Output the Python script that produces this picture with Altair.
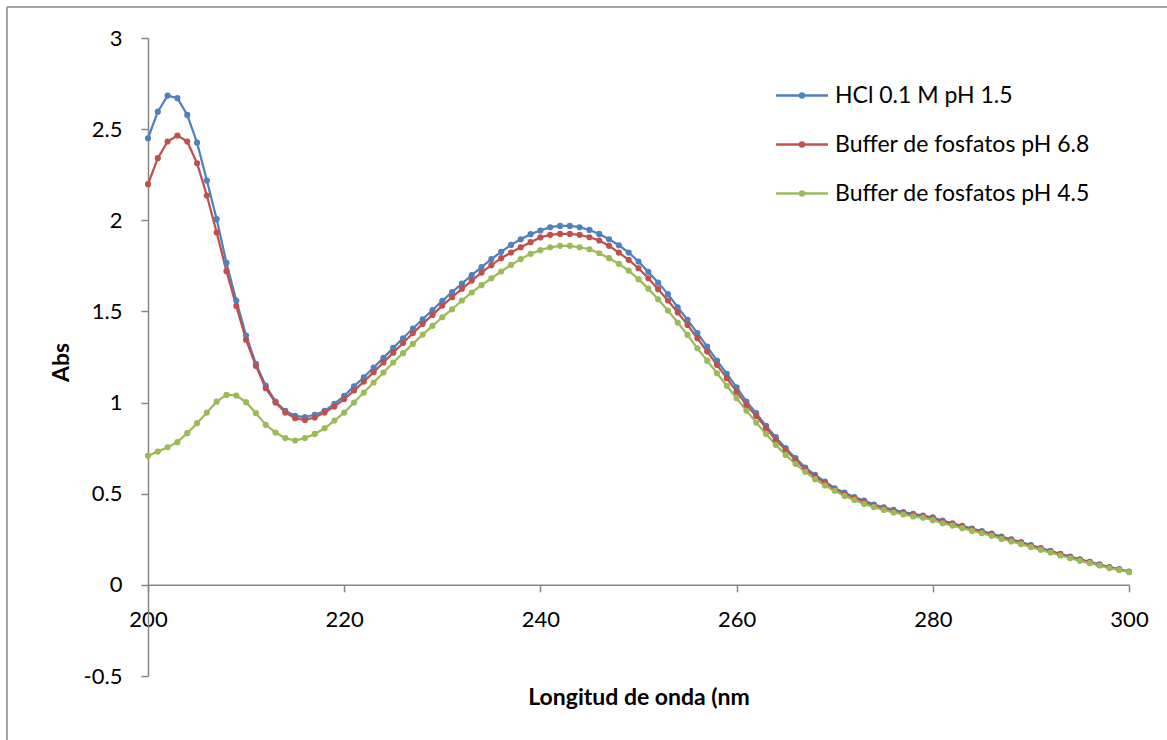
import altair as alt
import pandas as pd

wavelength = list(range(200, 301))

hcl = [
    2.450, 2.596, 2.684, 2.670, 2.578, 2.426, 2.218, 2.006, 1.766, 1.560,
    1.368, 1.212, 1.093, 1.005, 0.954, 0.927, 0.920, 0.933, 0.954, 0.993,
    1.037, 1.089, 1.139, 1.192, 1.245, 1.300, 1.353, 1.406, 1.457, 1.508,
    1.558, 1.606, 1.653, 1.699, 1.743, 1.787, 1.827, 1.865, 1.896, 1.924,
    1.944, 1.962, 1.969, 1.969, 1.962, 1.947, 1.925, 1.896, 1.863, 1.823,
    1.774, 1.717, 1.658, 1.595, 1.523, 1.454, 1.381, 1.307, 1.230, 1.157,
    1.083, 1.006, 0.942, 0.872, 0.810, 0.750, 0.695, 0.643, 0.603, 0.567,
    0.530, 0.506, 0.481, 0.462, 0.441, 0.425, 0.411, 0.399, 0.389, 0.380,
    0.371, 0.352, 0.338, 0.324, 0.309, 0.295, 0.281, 0.265, 0.250, 0.234,
    0.218, 0.202, 0.187, 0.170, 0.155, 0.140, 0.126, 0.112, 0.098, 0.086,
    0.073,
]

buf68 = [
    2.198, 2.341, 2.432, 2.465, 2.432, 2.313, 2.136, 1.933, 1.721, 1.530,
    1.344, 1.201, 1.079, 1.000, 0.945, 0.914, 0.905, 0.918, 0.945, 0.978,
    1.019, 1.066, 1.115, 1.167, 1.220, 1.274, 1.327, 1.381, 1.432, 1.481,
    1.532, 1.578, 1.624, 1.669, 1.713, 1.754, 1.792, 1.823, 1.852, 1.880,
    1.906, 1.920, 1.925, 1.925, 1.920, 1.907, 1.889, 1.860, 1.823, 1.783,
    1.737, 1.682, 1.622, 1.560, 1.494, 1.426, 1.353, 1.280, 1.207, 1.134,
    1.060, 0.987, 0.927, 0.860, 0.795, 0.741, 0.686, 0.634, 0.594, 0.560,
    0.523, 0.498, 0.476, 0.455, 0.434, 0.419, 0.405, 0.394, 0.384, 0.375,
    0.364, 0.347, 0.333, 0.319, 0.304, 0.290, 0.276, 0.260, 0.245, 0.230,
    0.214, 0.198, 0.183, 0.167, 0.152, 0.137, 0.123, 0.109, 0.096, 0.084,
    0.072,
]

buf45 = [
    0.708, 0.731, 0.755, 0.783, 0.832, 0.887, 0.945, 1.005, 1.042, 1.039,
    1.002, 0.942, 0.878, 0.836, 0.805, 0.792, 0.805, 0.828, 0.859, 0.901,
    0.945, 1.000, 1.055, 1.110, 1.165, 1.220, 1.271, 1.322, 1.373, 1.421,
    1.468, 1.512, 1.560, 1.604, 1.644, 1.682, 1.719, 1.755, 1.787, 1.816,
    1.836, 1.852, 1.860, 1.860, 1.852, 1.841, 1.819, 1.792, 1.761, 1.724,
    1.677, 1.625, 1.567, 1.505, 1.439, 1.371, 1.298, 1.230, 1.161, 1.092,
    1.024, 0.956, 0.890, 0.828, 0.768, 0.713, 0.664, 0.620, 0.580, 0.545,
    0.516, 0.488, 0.466, 0.444, 0.426, 0.411, 0.397, 0.386, 0.375, 0.368,
    0.355, 0.338, 0.325, 0.311, 0.296, 0.283, 0.269, 0.252, 0.238, 0.223,
    0.207, 0.192, 0.177, 0.161, 0.146, 0.132, 0.119, 0.106, 0.092, 0.081,
    0.070,
]

series_names = ["HCl 0.1 M pH 1.5", "Buffer de fosfatos pH 6.8", "Buffer de fosfatos pH 4.5"]
series_colors = ["#4F81BD", "#C0504D", "#9BBB59"]
x_ticks = [200, 220, 240, 260, 280, 300]
y_ticks = [-0.5, 0, 0.5, 1, 1.5, 2, 2.5, 3]

rows = []
for name, vals in zip(series_names, [hcl, buf68, buf45]):
    for w, v in zip(wavelength, vals):
        rows.append({"nm": w, "abs": v, "serie": name})
df = pd.DataFrame(rows)

FONT = "Lato"
AX = "#868686"
W, H = 981, 638

x_enc = alt.X(
    "nm:Q",
    scale=alt.Scale(domain=[200, 300], nice=False, zero=False),
    axis=alt.Axis(
        values=x_ticks, title="Longitud de onda (nm", grid=False,
        offset=-91.14, tickSize=7, labelPadding=18, labelFlush=False,
        titleY=120, titleBaseline="alphabetic",
    ),
)
y_enc = alt.Y(
    "abs:Q",
    scale=alt.Scale(domain=[-0.5, 3], nice=False, zero=False),
    axis=alt.Axis(
        values=y_ticks, labelExpr="'' + datum.value", title="Abs", grid=False,
        tickSize=7, labelPadding=19, labelFlush=False,
        titleX=-80, titleY=324, titleAngle=270, titleAlign="center",
        titleBaseline="alphabetic",
    ),
)

legend_path = "M-2,0L2,0M-0.15,0A0.15,0.15,0,1,0,0.15,0A0.15,0.15,0,1,0,-0.15,0"

lines = alt.Chart(df).mark_line(strokeWidth=2.25).encode(
    x=x_enc, y=y_enc,
    color=alt.Color(
        "serie:N", sort=series_names,
        scale=alt.Scale(domain=series_names, range=series_colors),
        legend=alt.Legend(
            title=None, orient="none", legendX=639.5, legendY=43,
            symbolType=legend_path, symbolSize=676, symbolStrokeWidth=2.5,
            labelOffset=18.5, rowPadding=22, padding=0,
            labelFont=FONT, labelFontSize=23, labelColor="black", labelLimit=400,
        ),
    ),
)

points = alt.Chart(df).mark_point(filled=True, size=38, opacity=1, strokeWidth=0).encode(
    x=x_enc, y=y_enc,
    fill=alt.Fill(
        "serie:N", sort=series_names,
        scale=alt.Scale(domain=series_names, range=series_colors),
        legend=None,
    ),
)

frame = pd.DataFrame({"k": [0]})
border_left = alt.Chart(frame).mark_rule(color=AX, strokeWidth=1.5).encode(
    x=alt.value(-141), y=alt.value(-31), y2=alt.value(720)
)
border_top = alt.Chart(frame).mark_rule(color=AX, strokeWidth=1.5).encode(
    x=alt.value(-141), x2=alt.value(1030), y=alt.value(-31)
)

chart = (
    alt.layer(border_left, border_top, lines, points)
    .properties(
        width=W, height=H,
        autosize=alt.AutoSizeParams(type="none"),
        padding={"left": 148, "top": 38, "right": 38, "bottom": 64},
        background="white",
    )
    .configure_view(stroke=None)
    .configure_axis(
        domainColor=AX, domainWidth=1.5, tickColor=AX, tickWidth=1.5,
        labelFont=FONT, labelFontSize=22, labelColor="black",
        titleFont=FONT, titleFontSize=23, titleFontWeight="bold", titleColor="black",
    )
)

chart.save("out.html", embed_options={"renderer": "svg", "actions": False})
